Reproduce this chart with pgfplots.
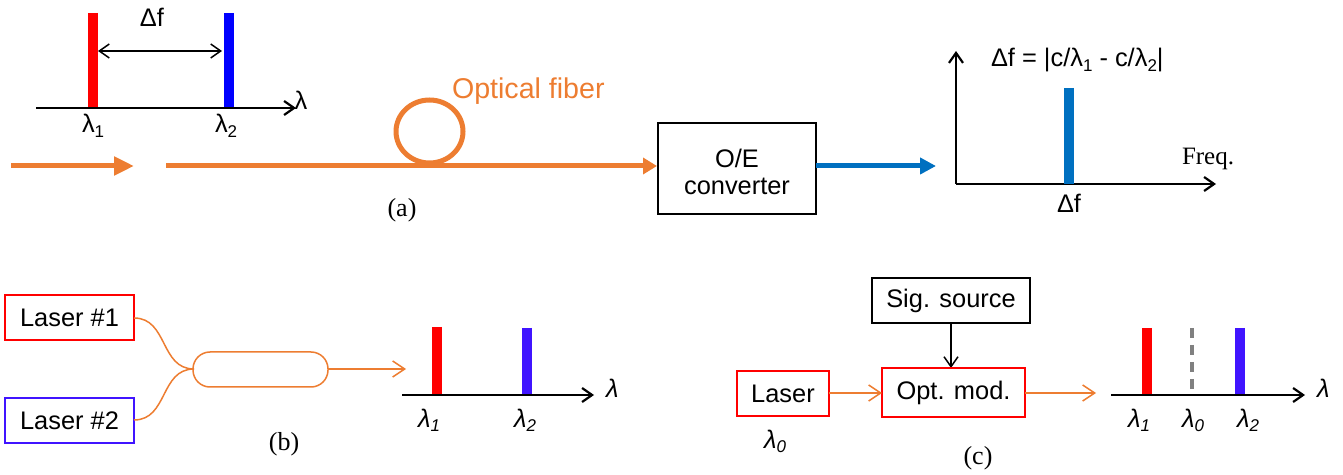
\documentclass[border=0pt]{standalone}
\usepackage{pgfplots}
\pgfplotsset{compat=1.18}
\usetikzlibrary{arrows.meta}
\usepackage{fontspec}
\setmainfont{Liberation Sans}
\newfontfamily\serif{Liberation Serif}
\definecolor{orC}{HTML}{ED7D31}
\definecolor{blC}{HTML}{0070C0}
\definecolor{puC}{RGB}{64,20,255}
\newcommand\sub[1]{\raisebox{-0.35ex}{\fontsize{8.5}{9}\selectfont #1}}
\begin{document}
\begin{tikzpicture}[font=\fontsize{12.7}{14}\selectfont,
  barb/.style={-{Straight Barb[length=5pt,width=7pt]}},
  obarb/.style={-{Straight Barb[length=6pt,width=8pt]}},
  every node/.style={inner sep=0pt, outer sep=0pt}]
\begin{axis}[scale only axis, width=671.5pt, height=237.5pt,
  xmin=0, xmax=1343, ymin=0, ymax=475, y dir=reverse,
  axis lines=none, ticks=none, clip=false]
\path (0,0) rectangle (1343,475);
% ---------- panel (a) ----------
\addplot[red, line width=5pt] coordinates {(92.6,13)(92.6,108)};
\addplot[blue, line width=5pt] coordinates {(228.6,13)(228.6,108)};
\draw[line width=1.1pt, barb] (36,108) -- (296,108);
\draw[line width=0.75pt, {Straight Barb[length=5pt,width=7pt]}-{Straight Barb[length=5pt,width=7pt]}] (98,51) -- (222,51);
\node[anchor=base] at (152,27) {Δf};
\node[anchor=base] at (301,110) {λ};
\node[anchor=base west] at (82,133) {λ\sub{1}};
\node[anchor=base west] at (215,133) {λ\sub{2}};
\draw[orC, line width=2.5pt, -{Triangle[length=10pt,width=9pt]}] (11,166) -- (134,166);
\draw[orC, line width=2.5pt, -{Triangle[length=7pt,width=8pt]}] (166,166) -- (657,166);
\draw[orC, line width=2.5pt] (429.5,131.5) ellipse [x radius=16.75pt, y radius=15.75pt];
\node[anchor=base west, text=orC, font=\fontsize{14.3}{16}\selectfont] at (452,99) {Optical fiber};
\node[anchor=base, font=\serif\fontsize{13}{15}\selectfont] at (402,217) {(a)};
\draw[line width=1.25pt] (658,123) rectangle (816,214);
\node[anchor=base] at (737,168) {O/E};
\node[anchor=base] at (737,195) {converter};
\draw[blC, line width=2.5pt, -{Triangle[length=8pt,width=8pt]}] (816,166) -- (936,166);
\draw[line width=1.1pt, barb] (956,184) -- (956,51);
\draw[line width=1.1pt, barb] (955.5,184) -- (1216,184);
\addplot[blC, line width=5pt] coordinates {(1068.5,88)(1068.5,184)};
\node[anchor=base west] at (991,67) {Δf = |c/λ\sub{1} - c/λ\sub{2}|};
\node[anchor=base west, font=\serif\fontsize{12.5}{14}\selectfont] at (1182,165) {Freq.};
\node[anchor=base] at (1069,213) {Δf};
% ---------- panel (b) ----------
\draw[red, line width=0.8pt] (5,295) rectangle (134,340);
\node at (69.5,318) {Laser \#1};
\draw[puC, line width=0.8pt] (5,398) rectangle (134,443);
\node at (69.5,421) {Laser \#2};
\draw[orC, line width=0.75pt] (134,318) .. controls (168,318) and (160,369) .. (194,369);
\draw[orC, line width=0.75pt] (134,420) .. controls (168,420) and (160,369) .. (194,369);
\draw[orC, line width=0.75pt, rounded corners=8.5pt] (193,352) rectangle (328,387);
\draw[orC, line width=0.75pt, obarb] (328,369) -- (406,369);
\addplot[red, line width=5pt] coordinates {(436.5,327)(436.5,395)};
\addplot[puC, line width=5pt] coordinates {(527,328)(527,395)};
\draw[line width=1.1pt, barb] (402,395) -- (594,395);
\node[anchor=base west] at (606,398) {\itshape λ};
\node[anchor=base west] at (418,427) {\itshape λ\sub{1}};
\node[anchor=base west] at (514,427) {\itshape λ\sub{2}};
\node[anchor=base, font=\serif\fontsize{13}{15}\selectfont] at (284,450) {(b)};
% ---------- panel (c) ----------
\draw[line width=1pt] (872,278) rectangle (1030,323);
\node at (951,300.5) {Sig. source};
\draw[line width=0.75pt, barb] (951,323) -- (951,368);
\draw[red, line width=0.8pt] (737,371) rectangle (829,416);
\node at (783,393.5) {Laser};
\draw[red, line width=0.8pt] (882,368) rectangle (1025,417);
\node at (953.5,392.5) {Opt. mod.};
\draw[orC, line width=0.75pt, obarb] (829,393) -- (882,393);
\draw[orC, line width=0.75pt, obarb] (1025,393) -- (1096,393);
\node[anchor=base west] at (764,448) {\itshape λ\sub{0}};
\addplot[red, line width=5pt] coordinates {(1147,328)(1147,395)};
\addplot[gray, line width=2pt, dash pattern=on 5pt off 3.5pt] coordinates {(1192,328)(1192,395)};
\addplot[puC, line width=5pt] coordinates {(1239.5,328)(1239.5,395)};
\draw[line width=1.1pt, barb] (1111,395) -- (1305,395);
\node[anchor=base west] at (1317,398) {\itshape λ};
\node[anchor=base west] at (1128,427) {\itshape λ\sub{1}};
\node[anchor=base west] at (1182,427) {\itshape λ\sub{0}};
\node[anchor=base west] at (1237,427) {\itshape λ\sub{2}};
\node[anchor=base, font=\serif\fontsize{13}{15}\selectfont] at (978,464) {(c)};
\end{axis}
\end{tikzpicture}
\end{document}
